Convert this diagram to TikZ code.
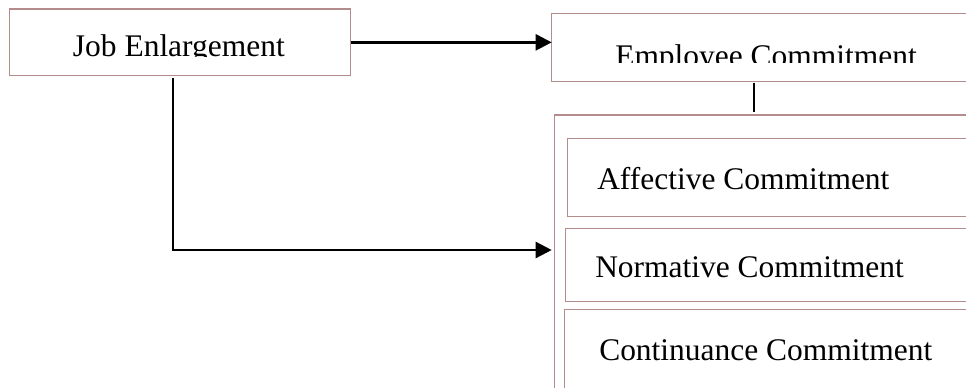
\documentclass[tikz,border=0pt]{standalone}
\usepackage{fontspec}
\setmainfont{Liberation Serif}
\usetikzlibrary{arrows.meta,fit}
\definecolor{boxline}{RGB}{180,140,140}
\begin{document}
\begin{tikzpicture}[x=0.75pt,y=-0.75pt,
  box/.style={draw=boxline,line width=0.8pt,inner sep=0pt,outer sep=0pt},
  openbox/.style={inner sep=0pt,outer sep=0pt},
  edge/.style={draw=boxline,line width=0.8pt},
  lbl/.style={anchor=base west,inner sep=0pt,font=\fontsize{23.6}{28}\selectfont},
  conn/.style={line width=1.8pt,black},
  arr/.style={conn,-{Triangle[length=12pt,width=12pt]}}]
\useasboundingbox (0,0) rectangle (966,387);
\clip (0,0) rectangle (966,387);
% boxes
\coordinate (j1) at (9.3,9);      \coordinate (j2) at (350.7,75.7);
\coordinate (e1) at (551.7,13.3); \coordinate (e2) at (1100,81.7);
\coordinate (o1) at (554.7,115);  \coordinate (o2) at (1100,450);
\coordinate (a1) at (567.7,138.3);\coordinate (a2) at (1100,216.5);
\coordinate (n1) at (565.3,228.3);\coordinate (n2) at (1100,301.5);
\coordinate (c1) at (564.3,309.5);\coordinate (c2) at (1100,450);
\node[box,fit=(j1)(j2)] (job) {};
\node[openbox,fit=(e1)(e2)] (emp) {};
\node[openbox,fit=(o1)(o2)] (outer) {};
\node[openbox,fit=(a1)(a2)] (aff) {};
\node[openbox,fit=(n1)(n2)] (norm) {};
\node[openbox,fit=(c1)(c2)] (cont) {};
\foreach \b in {emp,outer,aff,norm,cont}
  \draw[edge] (\b.north east) -- (\b.north west) -- (\b.south west) -- (\b.south east);
% labels
\begin{scope}
  \clip (0,0) rectangle (966,56.3);
  \node[lbl] (tjob) at (72.7,56) {Job Enlargement};
\end{scope}
\begin{scope}
  \clip (0,0) rectangle (966,62.3);
  \node[lbl] (temp) at (615,66.5) {Employee Commitment};
\end{scope}
\node[lbl] (taff) at (597,189) {Affective Commitment};
\node[lbl] (tnorm) at (595,277) {Normative Commitment};
\node[lbl] (tcont) at (599,360) {Continuance Commitment};
% connectors
\draw[arr] (job.east) -- (job.east -| emp.west);
\coordinate (ed1) at (754,82.7);
\coordinate (ed2) at (754,111.7);
\draw[conn] (ed1) -- (ed2);
\coordinate (jd) at (172.7,78.3);
\coordinate (nd) at (551.7,250);
\draw[arr] (jd) |- (nd);
\end{tikzpicture}
\end{document}
